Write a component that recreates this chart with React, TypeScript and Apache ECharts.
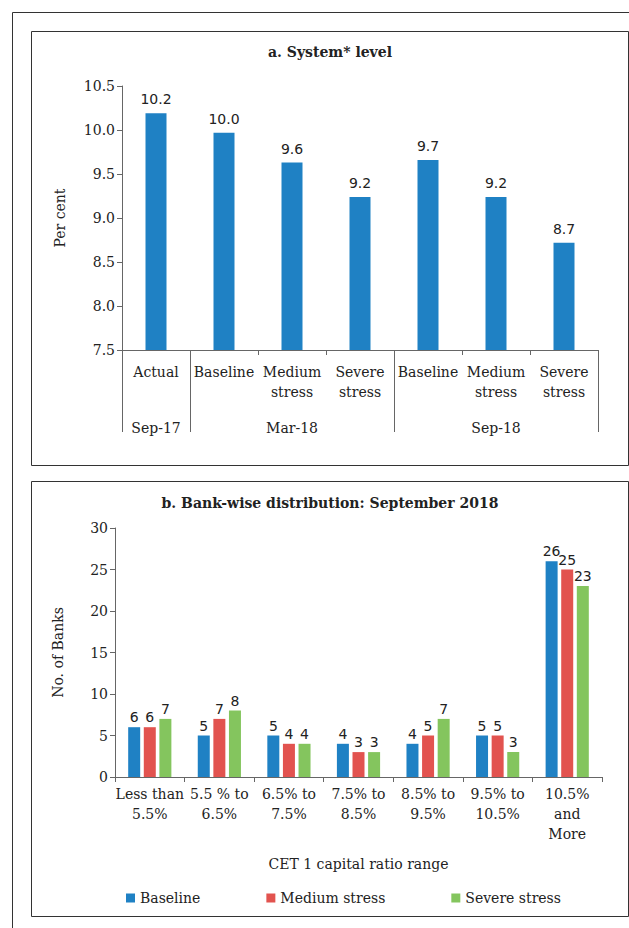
import React, { useEffect, useRef } from "react";
import * as echarts from "echarts";

// Panel a: system level CET1 ratio
const periodCategories = ["Actual", "Baseline", "Medium\nstress", "Severe\nstress", "Baseline", "Medium\nstress", "Severe\nstress"];
const systemValues = [10.19, 9.97, 9.63, 9.24, 9.66, 9.24, 8.72];
const groupNames = ["Sep-17", "Mar-18", "Sep-18"];
const groupSizes = [1, 3, 3];

// Panel b: bank-wise distribution
const rangeCategories = ["Less than\n5.5%", "5.5 % to\n6.5%", "6.5% to\n7.5%", "7.5% to\n8.5%", "8.5% to\n9.5%", "9.5% to\n10.5%", "10.5%\nand\nMore"];
const baselineBanks = [6, 5, 5, 4, 4, 5, 26];
const mediumBanks = [6, 7, 4, 3, 5, 5, 25];
const severeBanks = [7, 8, 4, 3, 7, 3, 23];
const seriesNames = ["Baseline", "Medium stress", "Severe stress"];

const BLUE = "#1f81c4";
const RED = "#e2534f";
const GREEN = "#84c55e";
const SERIF = "DejaVu Serif";
const SANS = "DejaVu Sans";
const TXT = "#222";
const AX = "#666";

export default function App() {
  const ref = useRef<HTMLDivElement>(null);
  useEffect(() => {
    if (!ref.current) return;
    const chart = echarts.init(ref.current, null, { renderer: "svg" });

    const groupStarts: number[] = [];
    const groupLabels: string[] = periodCategories.map(() => "");
    let s = 0;
    groupSizes.forEach((n, i) => {
      groupStarts.push(s);
      groupLabels[s + Math.floor(n / 2)] = groupNames[i];
      s += n;
    });

    const axisLabelBase = { color: TXT, fontFamily: SERIF, fontSize: 14, lineHeight: 20 };

    chart.setOption({
      animation: false,
      backgroundColor: "#fff",
      graphic: [
        { type: "rect", shape: { x: 12.5, y: 12.5, width: 700, height: 1000 }, style: { fill: "none", stroke: "#333", lineWidth: 1 }, silent: true },
        { type: "rect", shape: { x: 31.5, y: 31.5, width: 597, height: 434 }, style: { fill: "none", stroke: "#333", lineWidth: 1 }, silent: true },
        { type: "rect", shape: { x: 31.5, y: 481.5, width: 597, height: 435 }, style: { fill: "none", stroke: "#333", lineWidth: 1 }, silent: true },
        { type: "text", x: 330, y: 52, style: { text: "a. System* level", fontFamily: SERIF, fontSize: 14, fontWeight: "bold", fill: TXT, align: "center", verticalAlign: "middle" } },
        { type: "text", x: 330, y: 503, style: { text: "b. Bank-wise distribution: September 2018", fontFamily: SERIF, fontSize: 14, fontWeight: "bold", fill: TXT, align: "center", verticalAlign: "middle" } },
      ],
      legend: {
        data: seriesNames,
        left: 121,
        top: 886,
        icon: "rect",
        itemWidth: 9,
        itemHeight: 9,
        itemGap: 66,
        textStyle: { color: TXT, fontFamily: SERIF, fontSize: 14 },
      },
      grid: [
        { left: 122, right: 31, top: 86, bottom: 578 },
        { left: 115, right: 27, top: 528, bottom: 151 },
      ],
      xAxis: [
        {
          type: "category",
          gridIndex: 0,
          position: "bottom",
          data: periodCategories,
          axisLine: { lineStyle: { color: AX } },
          axisTick: { show: true, length: 5, lineStyle: { color: AX } },
          axisLabel: { ...axisLabelBase, interval: 0, margin: 12 },
        },
        {
          type: "category",
          gridIndex: 0,
          position: "bottom",
          offset: 0,
          data: groupLabels,
          axisLine: { show: true, lineStyle: { color: AX } },
          axisTick: { show: true, length: 82, interval: (index: number) => groupStarts.indexOf(index) >= 0, lineStyle: { color: AX } },
          axisLabel: { ...axisLabelBase, interval: 0, margin: 68 },
        },
        {
          type: "category",
          gridIndex: 1,
          position: "bottom",
          data: rangeCategories,
          name: "CET 1 capital ratio range",
          nameLocation: "middle",
          nameGap: 80,
          nameTextStyle: { color: TXT, fontFamily: SERIF, fontSize: 14 },
          axisLine: { lineStyle: { color: AX } },
          axisTick: { show: true, length: 5, lineStyle: { color: AX } },
          axisLabel: { ...axisLabelBase, interval: 0, margin: 7 },
        },
      ],
      yAxis: [
        {
          type: "value",
          gridIndex: 0,
          min: 7.5,
          max: 10.5,
          interval: 0.5,
          name: "Per cent",
          nameLocation: "middle",
          nameGap: 55,
          nameTextStyle: { color: TXT, fontFamily: SERIF, fontSize: 14 },
          axisLine: { show: true, lineStyle: { color: AX } },
          axisTick: { show: true, length: 5, lineStyle: { color: AX } },
          axisLabel: { color: TXT, fontFamily: SERIF, fontSize: 14, margin: 7, formatter: (v: number) => v.toFixed(1) },
          splitLine: { show: false },
        },
        {
          type: "value",
          gridIndex: 1,
          min: 0,
          max: 30,
          interval: 5,
          name: "No. of Banks",
          nameLocation: "middle",
          nameGap: 50,
          nameTextStyle: { color: TXT, fontFamily: SERIF, fontSize: 14 },
          axisLine: { show: true, lineStyle: { color: AX } },
          axisTick: { show: true, length: 5, lineStyle: { color: AX } },
          axisLabel: { color: TXT, fontFamily: SERIF, fontSize: 14, margin: 7 },
          splitLine: { show: false },
        },
      ],
      series: [
        {
          type: "bar",
          name: "System",
          xAxisIndex: 0,
          yAxisIndex: 0,
          data: systemValues,
          barWidth: 21,
          itemStyle: { color: BLUE },
          label: { show: true, position: "top", distance: 7, color: TXT, fontFamily: SANS, fontSize: 14, formatter: (p: any) => Number(p.value).toFixed(1) },
        },
        {
          type: "bar",
          name: "groupAxis",
          xAxisIndex: 1,
          yAxisIndex: 0,
          data: periodCategories.map(() => null),
          silent: true,
          barWidth: 0,
        },
        ...[baselineBanks, mediumBanks, severeBanks].map((d, i) => ({
          type: "bar",
          name: seriesNames[i],
          xAxisIndex: 2,
          yAxisIndex: 1,
          data: d,
          barWidth: 12,
          barGap: "30%",
          itemStyle: { color: [BLUE, RED, GREEN][i] },
          label: { show: true, position: "top", distance: 3, color: TXT, fontFamily: SANS, fontSize: 14 },
        })),
      ],
    });
    return () => chart.dispose();
  }, []);
  return <div ref={ref} style={{ position: "absolute", left: 0, top: 0, width: 629, height: 928 }} />;
}
